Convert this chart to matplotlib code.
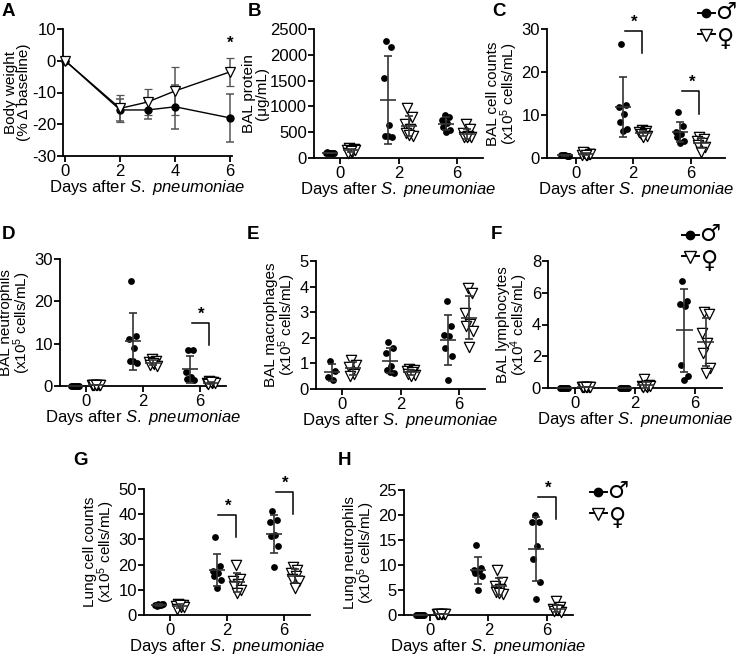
import numpy as np
import matplotlib
matplotlib.use('Agg')
import matplotlib.pyplot as plt

plt.rcParams['font.family'] = ['Liberation Sans', 'DejaVu Sans']
plt.rcParams['mathtext.fontset'] = 'custom'
plt.rcParams['mathtext.rm'] = 'Liberation Sans'
plt.rcParams['mathtext.it'] = 'Liberation Sans:italic'
plt.rcParams['axes.unicode_minus'] = False

W, H = 737, 657
XLABEL = r'Days after $\mathit{S.}$ $\mathit{pneumoniae}$'
FS = 12

# panel A: body weight, mean and SD per day
a_days = [0, 2, 3, 4, 6]
a_male = [0, -15.5, -15.5, -14.5, -18]
a_male_sd = [0, 3.5, 2.7, 7, 7.5]
a_female = [0, -15, -13, -9.5, -3.5]
a_female_sd = [0, 4.2, 4, 7.5, 4.4]

days = ['0', '2', '6']

# individual mice, per day group (0, 2, 6)
b_male = [[100, 95, 105, 90, 110, 100, 95],
          [2270, 2160, 1550, 640, 430, 410, 420],
          [830, 800, 730, 670, 600, 540, 500]]
b_female = [[200, 180, 150, 120, 100, 160, 130],
            [960, 800, 650, 560, 480, 430, 450],
            [650, 560, 480, 420, 410, 400, 400]]

c_male = [[0.8, 0.5, 0.6, 0.4, 0.7, 0.5, 0.6],
          [26.6, 12.4, 11.8, 10.3, 8.4, 6.7, 6.3],
          [10.6, 7.5, 6.0, 5.5, 5.0, 4.0, 3.6]]
c_female = [[1.2, 1.0, 0.8, 0.6, 1.4, 0.9, 0.7],
            [6.5, 6.2, 6.0, 5.8, 5.5, 5.2, 5.0],
            [5.0, 4.5, 4.0, 3.5, 3.0, 2.5, 1.5]]

d_male = [[0, 0, 0, 0, 0, 0, 0],
          [24.9, 11.7, 11.0, 8.9, 5.8, 5.5, 5.8],
          [8.5, 8.4, 3.4, 2.2, 1.6, 1.4, 1.8]]
d_female = [[0.2, 0.2, 0.2, 0.2, 0.2, 0.2, 0.2],
            [6.3, 6.0, 5.6, 5.3, 5.0, 4.8, 5.5],
            [1.2, 1.0, 0.8, 0.6, 0.5, 0.7, 0.9]]

e_male = [[1.1, 0.7, 0.48, 0.35],
          [1.82, 1.62, 1.4, 0.9, 0.75, 0.62, 0.68],
          [3.45, 2.46, 2.12, 2.08, 1.6, 1.27, 0.35]]
e_female = [[1.15, 0.95, 0.85, 0.6, 0.5],
            [0.8, 0.75, 0.7, 0.65, 0.6, 0.55, 0.5],
            [3.95, 3.75, 2.95, 2.55, 2.45, 2.25, 1.65]]

f_male = [[0, 0, 0, 0, 0, 0, 0],
          [0, 0, 0, 0, 0, 0, 0],
          [6.72, 5.47, 5.32, 5.16, 1.46, 0.73, 0.52]]
f_female = [[0.05, 0.05, 0.05, 0.05, 0.05, 0.05, 0.05],
            [0.55, 0.2, 0.1, 0.05, 0.05, 0.1, 0.15],
            [4.8, 4.66, 3.49, 2.86, 2.23, 1.25, 0.94]]

g_male = [[4.5, 4.2, 4.0, 3.8, 3.6, 4.3, 3.9],
          [30.9, 19.5, 17.5, 16.5, 15.5, 14.0, 10.7],
          [41.4, 37.8, 36.8, 31.8, 31.2, 27.2, 19.1]]
g_female = [[4.5, 4.0, 3.5, 3.0, 2.5, 3.2, 3.8],
            [20.0, 14.3, 13.4, 12.5, 11.4, 10.1, 8.6],
            [18.9, 18.0, 16.7, 15.4, 14.3, 13.4, 10.8]]

h_male = [[0.1, 0.1, 0.1, 0.1, 0.1, 0.1, 0.1],
          [14.1, 9.5, 9.0, 8.8, 8.4, 7.8, 5.1],
          [20.1, 18.6, 18.6, 13.8, 11.2, 6.7, 3.3]]
h_female = [[0.2, 0.2, 0.2, 0.2, 0.2, 0.2, 0.2],
            [9.1, 6.7, 5.9, 5.3, 4.7, 4.3, 4.5],
            [2.8, 1.6, 1.2, 1.0, 0.8, 0.7, 1.0]]

# significance brackets: (group index, bracket top, bracket bottom)
c_sig = [(1, 29.6, 24.5), (2, 15.5, 10.3)]
d_sig = [(2, 14.8, 9.7)]
g_sig = [(1, 39.5, 30.9), (2, 48.7, 40.1)]
h_sig = [(2, 23.6, 19.2)]

JIT = [-0.03, 0.05, -0.07, 0.02, -0.05, 0.07, 0.0]
OFF = 0.18

fig = plt.figure(figsize=(W / 100, H / 100), dpi=100)


def add_ax(l, r, t, b):
    ax = fig.add_axes([l / W, 1 - b / H, (r - l) / W, (b - t) / H])
    for s in ['top', 'right']:
        ax.spines[s].set_visible(False)
    for s in ['left', 'bottom']:
        ax.spines[s].set_linewidth(1.3)
    ax.tick_params(direction='out', length=4, width=1.3, labelsize=FS,
                   pad=1.5, colors='black')
    ax.tick_params(axis='y', pad=1)
    ax.set_facecolor('none')
    return ax


def mean_sd(ax, x, vals):
    m = np.mean(vals)
    s = np.std(vals, ddof=1)
    kw = dict(color='#333333', lw=1.2, zorder=4, clip_on=False,
              solid_capstyle='butt')
    ax.plot([x - 0.14, x + 0.14], [m, m], **kw)
    if s > 0:
        ax.plot([x, x], [m - s, m + s], **kw)
        ax.plot([x - 0.07, x + 0.07], [m + s, m + s], **kw)
        ax.plot([x - 0.07, x + 0.07], [m - s, m - s], **kw)


def labels(ax, ylabel):
    ax.set_ylabel(ylabel, fontsize=11, linespacing=0.9, labelpad=1)
    ax.set_xlabel(XLABEL, fontsize=FS, labelpad=-0.5)


def dot_panel(ax, male, female, ymax, ystep, ylabel, xlim=(-0.45, 2.45), sig=()):
    for i in range(3):
        xm = [i - OFF + JIT[k % 7] for k in range(len(male[i]))]
        xf = [i + OFF + JIT[k % 7] for k in range(len(female[i]))]
        ax.scatter(xm, male[i], s=24, color='black', zorder=3, clip_on=False,
                   linewidths=0)
        ax.scatter(xf, female[i], s=55, marker='v', facecolor='white',
                   edgecolor='black', linewidths=0.9, zorder=3, clip_on=False)
        mean_sd(ax, i - OFF, male[i])
        mean_sd(ax, i + OFF, female[i])
    for i, top, bot in sig:
        ax.plot([i - 0.15, i + 0.15, i + 0.15], [top, top, bot], color='black',
                lw=1.1, clip_on=False)
        ax.annotate('*', (i + 0.02, top), xytext=(0, 1), textcoords='offset points',
                    ha='center', va='bottom', fontsize=12, fontweight='bold',
                    annotation_clip=False)
    ax.set_xlim(*xlim)
    ax.set_xticks(range(3))
    ax.set_xticklabels(days)
    ax.set_ylim(0, ymax)
    ax.set_yticks(np.arange(0, ymax + ystep / 2, ystep))
    labels(ax, ylabel)


# A
ax = add_ax(63, 232, 29, 156)
ax.errorbar(a_days, a_male, yerr=a_male_sd, fmt='-o', color='black',
            ms=5, lw=1, ecolor='#555555', elinewidth=1.1, capsize=3,
            capthick=1.1, clip_on=False, zorder=3)
ax.errorbar(a_days, a_female, yerr=a_female_sd, fmt='-v', color='black',
            mfc='white', mec='black', ms=7.5, mew=0.9, lw=1, ecolor='#555555',
            elinewidth=1.1, capsize=3, capthick=1.1, clip_on=False, zorder=3)
ax.annotate('*', (6, 3), xytext=(0, 0), textcoords='offset points',
            ha='center', va='bottom', fontsize=12, fontweight='bold')
ax.set_xlim(-0.08, 6.07)
ax.set_xticks([0, 2, 4, 6])
ax.set_ylim(-30, 10)
ax.set_yticks([-30, -20, -10, 0, 10])
labels(ax, 'Body weight\n(% \u0394 baseline)')

# B - H
dot_panel(add_ax(314, 483, 29, 158), b_male, b_female, 2500, 500,
          'BAL protein\n(\u03bcg/mL)')
dot_panel(add_ax(547, 725, 29, 158), c_male, c_female, 30, 10,
          'BAL cell counts\n(x10$^5$ cells/mL)', xlim=(-0.5, 2.6), sig=c_sig)
dot_panel(add_ax(60, 226, 259, 386), d_male, d_female, 30, 10,
          'BAL neutrophils\n(x10$^5$ cells/mL)', sig=d_sig)
dot_panel(add_ax(316, 485, 261, 389), e_male, e_female, 5, 1,
          'BAL macrophages\n(x10$^5$ cells/mL)')
dot_panel(add_ax(548, 722, 261, 388), f_male, f_female, 8, 2,
          'BAL lymphocytes\n(x10$^4$ cells/mL)')
dot_panel(add_ax(144, 310, 489, 615), g_male, g_female, 50, 10,
          'Lung cell counts\n(x10$^5$ cells/mL)', sig=g_sig)
dot_panel(add_ax(404, 573, 490, 615), h_male, h_female, 25, 5,
          'Lung neutrophils\n(x10$^5$ cells/mL)', sig=h_sig)

# overlay in pixel coordinates for panel letters and legends
ov = fig.add_axes([0, 0, 1, 1])
ov.set_xlim(0, W)
ov.set_ylim(H, 0)
ov.axis('off')

for letter, x, y in [('A', 2, 3), ('B', 248, 3), ('C', 492, 3),
                     ('D', 2, 226), ('E', 247, 226), ('F', 491, 226),
                     ('G', 73, 452), ('H', 338, 452)]:
    ov.text(x, y, letter, fontsize=13.5, fontweight='bold', ha='left', va='top')

for x, y in [(706, 13), (690, 235), (598, 492)]:
    ov.plot([x - 8, x + 9], [y, y], color='black', lw=1.4)
    ov.plot([x], [y], 'o', color='black', ms=6)
    ov.text(x + 20, y - 1, '\u2642', fontsize=17, fontweight='bold',
            family='DejaVu Sans', ha='center', va='center')
    ov.plot([x - 8, x + 9], [y + 21, y + 21], color='black', lw=1.4)
    ov.plot([x], [y + 22], 'v', mfc='white', mec='black', mew=1, ms=8.5)
    ov.text(x + 20, y + 26, '\u2640', fontsize=17, fontweight='bold',
            family='DejaVu Sans', ha='center', va='center')

fig.savefig('out.png', dpi=100)
